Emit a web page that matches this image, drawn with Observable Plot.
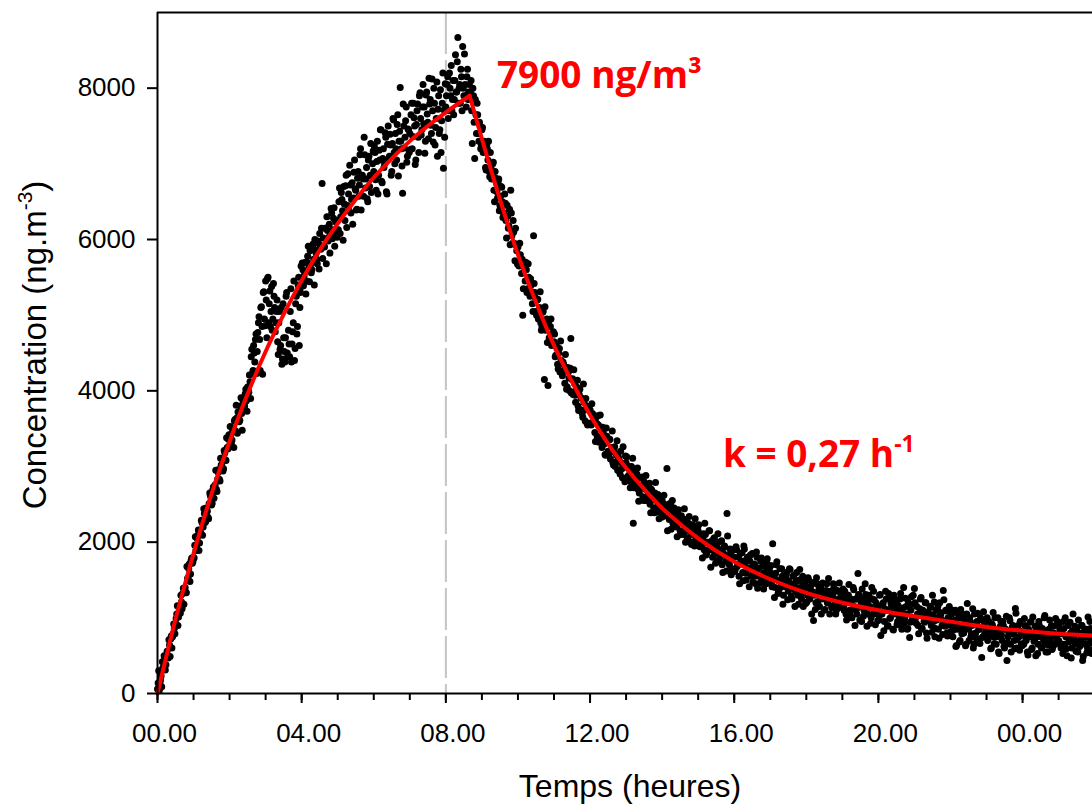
<!DOCTYPE html>
<html><head><meta charset="utf-8">
<script src="https://cdn.jsdelivr.net/npm/d3@7"></script>
<script src="https://cdn.jsdelivr.net/npm/@observablehq/plot@0.6"></script>
<style>
html,body{margin:0;padding:0;background:#fff;overflow:hidden;}
#chart{width:1092px;height:804px;}
</style></head><body><div id="chart"></div>
<script>
// Measured concentrations (ng/m3), one array per hour.
// "c" arrays: samples on even minutes; "d" arrays: samples on odd minutes.
const c00 = [60,300,150,230,420,330,480,380,560,470, 640,720,600,790,860,930,1050,900,1130,1060, 1210,1320,1180,1400,1330,1520,1650,1480,1760,1720];
const c01 = [1800,1960,1890,2050,2160,1990,2120,2260,2200,2380, 2270,2440,2330,2510,2620,2490,2690,2580,2760,2700, 2830,2960,2810,3020,3100,2970,3180,3080,3250,3360];
const c02 = [3280,3420,3350,3510,3600,3470,3640,3720,3590,3800, 3700,3880,3790,3960,3870,4050,3980,4120,4450,4230, 4600,4380,4750,4520,4900,4680,5100,4850,5300,4950];
const c03 = [5450,4700,5500,5150,4850,5380,4950,5250,4780,5050, 4650,4900,4550,5100,4420,4700,4380,5250,4500,4800, 4450,5350,4620,4900,4400,5150,4750,5400,4600,5300];
const c04 = [5380,5600,5520,5700,5450,5780,5650,5850,5560,5900, 5740,6000,5820,5680,5950,6080,5870,6740,6020,5900, 6150,6300,5980,6200,6090,6350,6130,6420,6250,6060];
const c05 = [6250,6500,6080,6620,6380,6700,6250,6850,6450,6600, 6980,6350,6750,6550,7050,6650,6400,6900,6720,7200, 6580,6800,7350,6680,6950,6500,7100,6850,6620,7000];
const c06 = [6900,7150,6650,7300,6850,7050,7450,6750,7200,7000, 7350,6600,7500,7100,7250,6900,7600,7150,7400,7050, 7650,7300,8010,7200,6610,7500,7350,7750,7100,7450];
const c07 = [7400,7650,7200,7800,7500,7050,7700,7350,7900,7600, 7450,8050,7750,7300,7950,7550,8130,7850,7400,7700, 8000,7250,7600,7100,7900,7450,7150,7800,6940,7350];
const c08 = [7750,8050,7600,8200,7900,7700,8100,7850,8440,7950, 8670,8000,7800,8150,8550,7900,8050,7750,8250,7950, 7850,8100,7270,7900,7070,7650,7800,7400,7550,7200];
const c09 = [7450,7150,7300,6950,7250,7050,6900,7150,6800,7000, 6650,6900,6750,6550,6800,6450,6700,6500,6350,6600, 6250,6450,6150,6400,6650,6050,6250,5950,6150,5850];
const c10 = [5900,5650,5800,5550,5000,5700,5450,5600,5350,5500, 5250,5400,5150,6050,5300,5050,5200,4950,5100,4900, 4850,5050,4150,4800,4950,4070,4700,4850,4600,4750];
const c11 = [4650,4450,4600,4350,4500,4250,4400,4200,4350,4100, 4300,4050,4250,4000,4690,4150,3950,4100,3850,4050, 3800,3950,3750,3900,3650,3850,3600,3800,3550,3750];
const c12 = [3750,3550,3700,3600,3450,3650,3400,3550,3350,3500, 3250,3450,3300,3150,3400,3200,3350,3100,3250,3050, 3200,3000,3150,2950,3100,2900,3050,2850,3000,2800];
const c13 = [3050,2850,3000,2900,2800,2950,2250,2850,2750,2900, 2700,2650,2850,2750,2600,2800,2700,2550,2750,2650, 2500,2700,2600,2450,2650,2550,2400,2600,2500,2450];
const c14 = [2550,2400,2500,2350,2974,2450,2300,2500,2400,2250, 2450,2350,2200,2400,2300,2150,2350,2250,2100,2300, 2200,2050,2250,2150,2000,2200,2100,1950,2150,2050];
const c15 = [2150,2000,2100,1950,2050,1900,2100,1850,2000,2150, 1900,1950,1800,2050,1850,1950,1750,2000,1800,1900, 1700,1850,1950,1750,2380,1800,1700,1850,1650,1900];
const c16 = [1800,1650,1900,1700,1550,1850,1750,1600,1950,1700, 1500,1800,1650,1750,1550,1850,1600,1700,1450,1800, 1650,1550,1750,1500,1700,1600,1450,1750,1550,1650];
const c17 = [1600,1450,1980,1550,1400,1700,1500,1350,1650,1450, 1550,1300,1600,1450,1500,1350,1650,1400,1250,1550, 1450,1350,1600,1300,1500,1400,1250,1550,1350,1450];
const c18 = [1400,1300,1500,1250,1350,1450,965,1300,1200,1450, 1350,1150,1400,1250,1350,1100,1300,1450,1200,1250, 1350,1150,1300,1400,1200,1100,1350,1250,1150,1300];
const c19 = [1250,1150,1350,1050,1200,1300,1100,1250,1000,1400, 1150,1250,1050,1586,1300,1150,950,1250,1100,1450, 1200,1050,1300,1150,1000,1250,1350,1100,1200,1050];
const c20 = [1150,1300,766,1050,1200,950,1350,1100,900,1250, 1000,1150,850,1300,1050,1200,950,1100,1250,900, 1050,1400,1000,1150,850,1200,740,1100,950,1300];
const c21 = [1388,1000,1150,900,1050,1250,850,1100,950,1200, 800,1050,1000,1150,900,1300,950,750,1100,1000, 850,1200,1050,900,1361,950,1100,800,1000,1150];
const c22 = [900,1050,750,950,1100,634,850,1000,700,900, 1050,800,950,650,1190,850,1000,750,900,600, 1050,800,950,700,850,1000,476,750,900,800];
const c23 = [850,700,950,800,600,900,750,1000,650,850, 550,800,950,700,900,600,850,436,750,1000, 650,800,900,700,1123,600,850,750,950,650];
const c24 = [800,650,900,700,550,850,750,950,600,800, 700,500,850,650,900,750,600,800,1000,650, 750,550,850,700,900,600,800,650,750,950];
const c25 = [700,850,600,800,950,650,750,500,900,700, 800,600,1050,750,650,850,550,800,700,900, 436,750,650,850,600,800,950,700,550,800];

const d00 = [140,40,180,90,340,500,310,480,490,710, 490,760,750,920,790,990,1160,1010,1140,1300, 1120,1390,1390,1340,1680,1530,1710,1580,1790,1740];
const d01 = [1790,2070,1950,2090,1890,2140,2290,2090,2440,2260, 2450,2410,2310,2650,2590,2510,2730,2670,2950,2670, 2920,2830,3110,3020,2940,3210,3090,3380,3230,3420];
const d02 = [3530,3300,3470,3250,3620,3810,3440,3650,3610,3910, 3480,3880,3800,4020,3730,4010,4210,3900,4550,4270, 4500,4680,4230,4770,4980,4270,5110,4220,5310,4860];
const d03 = [5200,5480,4900,5320,5050,4800,5420,5100,4900,5200, 4480,5050,4600,4350,5150,4520,4700,5300,4450,4620, 5050,4380,4780,5450,4560,5250,4850,5500,5100,5650];
const d04 = [5690,5390,5570,5280,5700,5910,5440,5670,5600,5940, 5400,5860,5740,5980,5610,5920,6150,5750,5910,6150, 5680,6120,6030,5820,6410,6010,6280,5910,6230,6030];
const d05 = [6130,6680,6300,6530,5990,6470,6710,6160,6870,6380, 6720,6530,6200,6890,6670,6390,6810,6570,7120,6390, 6850,6570,7120,6800,6540,7050,6700,7270,6840,7170];
const d06 = [7230,6790,7030,6600,7180,7450,6770,7070,6950,7410, 6630,7260,7070,7390,6850,7270,7580,7000,7200,7520, 6840,7430,7300,6970,7790,7210,7570,7020,7460,7150];
const d07 = [7190,7800,7360,7610,6990,7520,7790,7150,7940,7380, 7750,7530,7140,7910,7660,7330,7790,7510,8120,7290, 7800,7480,8080,7720,7400,7980,7570,8200,7710,8060];
const d08 = [7900,8150,7700,8000,8300,7850,7650,8100,7950,8350, 7800,8050,8250,7700,8000,8450,7900,8150,7850,8050, 7950,7700,8000,7550,7850,7400,7650,7300,7500,7250];
const d09 = [7480,7160,7240,6920,7200,7300,6830,6950,6820,7020, 6500,6810,6630,6760,6380,6570,6690,6290,6350,6480, 6020,6310,6180,5930,6350,5950,6100,5720,5920,5680];
const d10 = [5660,5950,5660,5740,5350,5600,5700,5300,5680,5320, 5480,5310,5050,5420,5230,5000,5210,5020,5310,4800, 5040,4810,5110,4860,4640,4910,4640,4950,4630,4780];
const d11 = [4750,4470,4560,4290,4560,4660,4260,4380,4270,4480, 4020,4310,4170,4300,3970,4160,4280,3940,4010,4140, 3740,4020,3910,3700,4090,3750,3900,3570,3770,3570];
const d12 = [3560,3830,3580,3670,3330,3570,3670,3320,3680,3370, 3520,3380,3160,3510,3350,3150,3360,3190,3470,3020, 3260,3060,3340,3130,2940,3200,2970,3260,2990,3140];
const d13 = [3130,2870,2970,2720,3000,3110,2720,2860,2770,2980, 2540,2850,2720,2860,2550,2750,2880,2550,2630,2780, 2390,2680,2580,2390,2790,2460,2630,2310,2520,2330];
const d14 = [2340,2620,2380,2480,2150,2400,2510,2170,2550,2250, 2410,2280,2070,2430,2280,2100,2310,2150,2440,2000, 2240,2060,2340,2140,1970,2230,2010,2310,2040,2200];
const d15 = [2230,1940,2060,1790,2110,2250,1830,1990,1900,2150, 1670,2020,1890,2060,1720,1950,2110,1750,1850,2020, 1600,1930,1830,1620,2080,1720,1910,1570,1810,1610];
const d16 = [1620,1940,1680,1800,1450,1730,1860,1490,1910,1590, 1780,1640,1410,1830,1670,1470,1710,1550,1870,1390, 1660,1460,1790,1570,1380,1680,1450,1780,1490,1670];
const d17 = [1690,1410,1540,1270,1590,1740,1320,1490,1400,1650, 1180,1530,1410,1580,1240,1480,1640,1290,1390,1560, 1150,1480,1390,1180,1640,1290,1480,1150,1390,1190];
const d18 = [1210,1530,1280,1410,1050,1340,1470,1110,1530,1210, 1410,1270,1050,1460,1310,1110,1360,1200,1520,1050, 1320,1130,1450,1240,1050,1360,1130,1460,1180,1360];
const d19 = [1380,1100,1230,970,1300,1440,1030,1200,1110,1370, 900,1250,1130,1310,970,1210,1380,1020,1130,1310, 890,1230,1140,930,1400,1050,1240,910,1160,960];
const d20 = [980,1310,1050,1180,830,1120,1250,890,1320,990, 1190,1060,840,1250,1100,910,1160,990,1320,850, 1130,930,1260,1050,860,1170,940,1280,990,1180];
const d21 = [1200,930,1050,790,1120,1270,860,1020,940,1200, 730,1080,960,1140,810,1040,1210,860,970,1150, 730,1070,980,780,1240,890,1090,760,1000,810];
const d22 = [770,1100,840,970,620,910,1050,680,1110,790, 990,850,630,1050,900,700,950,790,1120,650, 920,730,1060,850,660,970,740,1080,790,980];
const d23 = [1000,730,860,590,920,1070,660,830,750,1000, 530,890,770,950,620,850,1020,670,780,960, 550,880,790,590,1060,710,900,570,820,630];
const d24 = [660,990,740,870,510,800,940,580,1010,690, 890,750,530,950,800,610,860,700,1030,550, 830,640,970,760,580,890,650,990,710,900];
const d25 = [930,660,790,530,860,1000,590,760,680,940, 470,830,710,890,560,800,970,620,720,900, 490,830,740,540,1010,660,860,530,780,590];

const evenBlocks = [c00,c01,c02,c03,c04,c05,c06,c07,c08,c09,c10,c11,c12,c13,c14,c15,c16,c17,c18,c19,c20,c21,c22,c23,c24,c25];
const oddBlocks  = [d00,d01,d02,d03,d04,d05,d06,d07,d08,d09,d10,d11,d12,d13,d14,d15,d16,d17,d18,d19,d20,d21,d22,d23,d24,d25];
const samplesPerHour = 30;

// Fitted model (red line)
const riseTime = [0,0.5,1,1.5,2,2.5,3,3.5,4,4.5,5,5.5,6,6.5,7,7.5,8,8.66];
const riseConc = [0,980,1850,2640,3330,3960,4520,5010,5460,5860,6210,6530,6820,7070,7300,7500,7680,7900];
const decayTime = [8.66,9,9.5,10,10.5,11,11.5,12,12.5,13,13.5,14,14.5,15,16,17,18,19,20,21,22,23,24,25,26];
const decayConc = [7900,7330,6530,5800,5170,4600,4120,3680,3300,2980,2700,2450,2240,2050,1740,1510,1330,1200,1100,1020,950,880,830,790,765];

// Axes and texts
const xTickValues = [0,4,8,12,16,20,24];
const xTickLabels = ["00.00","04.00","08.00","12.00","16.00","20.00","00.00"];
const xMinorTicks = d3.range(0, 26, 1);
const yTickValues = [0,2000,4000,6000,8000];
const xTitle = "Temps (heures)";
const yTitleMain = "Concentration (ng.m";
const yTitleSup = "-3";
const peakLabel = "7900 ng/m³";
const rateLabel = "k = 0,27 h";
const rateSup = "-1";
const exposureEnd = 8;

const points = [];
evenBlocks.forEach((block, h) => block.forEach((c, j) => points.push({t: h + j / samplesPerHour, c})));
oddBlocks.forEach((block, h) => block.forEach((c, j) => points.push({t: h + (j + 0.5) / samplesPerHour, c})));
points.sort((a, b) => a.t - b.t);
const rise = riseTime.map((t, i) => ({t, c: riseConc[i]}));
const decay = decayTime.map((t, i) => ({t, c: decayConc[i]}));

const plot = Plot.plot({
  width: 1092, height: 804,
  marginLeft: 157, marginRight: 0, marginTop: 12, marginBottom: 111,
  x: {domain: [0, 25.94]},
  y: {domain: [0, 9000]},
  style: {fontFamily: "'Liberation Sans', Arial, sans-serif", fontSize: "26px", color: "#000", background: "#fff"},
  marks: [
    Plot.ruleX([exposureEnd], {stroke: "#c4c4c4", strokeWidth: 2, strokeDasharray: "42,6"}),
    Plot.dot(points, {x: "t", y: "c", r: 3.5, fill: "#000", stroke: "none"}),
    Plot.line(rise, {x: "t", y: "c", stroke: "#ff0000", strokeWidth: 4, curve: "monotone-x"}),
    Plot.line(decay, {x: "t", y: "c", stroke: "#ff0000", strokeWidth: 4, curve: "monotone-x"}),
    Plot.ruleY([0], {stroke: "#000", strokeWidth: 2}),
    Plot.ruleY([9000], {stroke: "#000", strokeWidth: 2}),
    Plot.ruleX([0], {stroke: "#000", strokeWidth: 2}),
    Plot.axisX({ticks: xMinorTicks, tickSize: 7, tickFormat: () => "", label: null, strokeWidth: 2}),
    Plot.axisX({ticks: xTickValues, tickSize: 10, tickFormat: () => "", label: null, strokeWidth: 2}),
    Plot.axisX({ticks: xTickValues, tickSize: 0, tickPadding: 30, dx: 7, fontSize: 26, label: null,
      tickFormat: d => xTickLabels[xTickValues.indexOf(d)]}),
    Plot.axisY({ticks: yTickValues, tickSize: 10, tickPadding: 12, fontSize: 26, label: null, strokeWidth: 2,
      tickFormat: d => String(d)})
  ]
});
document.getElementById("chart").appendChild(plot);

const svg = d3.select(plot);
const xs = plot.scale("x"), ys = plot.scale("y");

// Axis titles
svg.append("text")
  .attr("x", 630).attr("y", 797)
  .attr("text-anchor", "middle")
  .attr("font-size", 32).attr("fill", "#000")
  .text(xTitle);

const yt = svg.append("text")
  .attr("transform", "translate(46,345) rotate(-90)")
  .attr("text-anchor", "middle")
  .attr("font-size", 33).attr("fill", "#000");
yt.append("tspan").text(yTitleMain);
yt.append("tspan").attr("dy", -14).attr("font-size", 21).text(yTitleSup);
yt.append("tspan").attr("dy", 14).text(")");

// Annotations
svg.append("text")
  .attr("x", xs.apply(9.43)).attr("y", ys.apply(7996))
  .attr("text-anchor", "start")
  .attr("fill", "#ff0000").attr("font-family", "'Open Sans', sans-serif")
  .attr("font-weight", 700).attr("font-size", 37)
  .text(peakLabel);

const kt = svg.append("text")
  .attr("x", xs.apply(15.7)).attr("y", ys.apply(2987))
  .attr("text-anchor", "start")
  .attr("fill", "#ff0000").attr("font-family", "'Open Sans', sans-serif")
  .attr("font-weight", 700).attr("font-size", 37);
kt.append("tspan").text(rateLabel);
kt.append("tspan").attr("dy", -15).attr("font-size", 23).text(rateSup);
</script></body></html>
